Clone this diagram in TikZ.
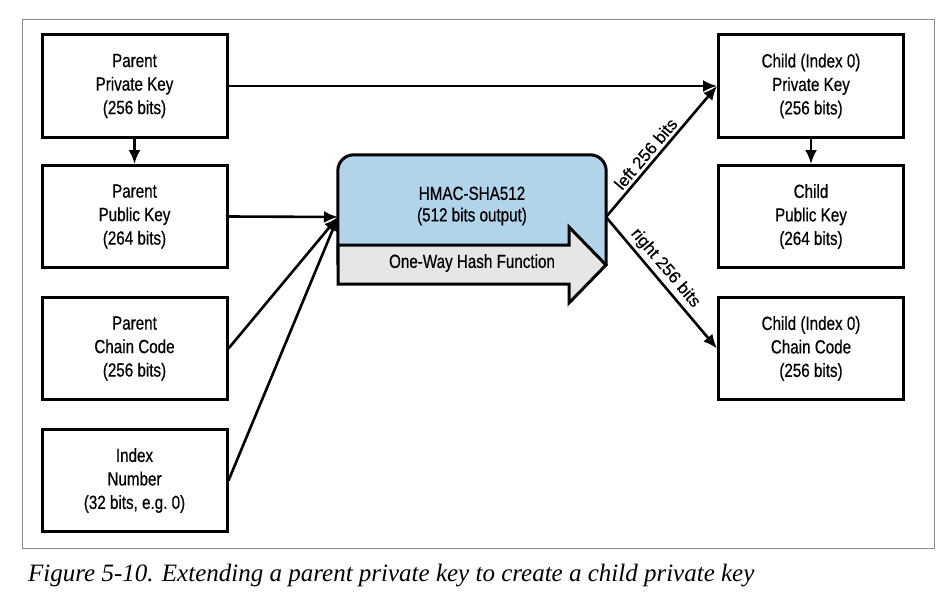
\documentclass[tikz,border=0pt]{standalone}
\usepackage{fontspec}
\setmainfont{Liberation Sans}[FakeStretch=0.8,FakeBold=0.5]
\newfontfamily\labelfont{Liberation Sans}[FakeBold=0.5]
\newfontfamily\capfont{Liberation Serif}
\usepackage{xcolor}
\usepackage{tikz}
\usetikzlibrary{arrows.meta}
\definecolor{hashblue}{RGB}{178,212,234}
\definecolor{hashgrey}{RGB}{230,230,230}
\definecolor{framegrey}{RGB}{140,140,140}

\begin{document}
\begin{tikzpicture}[x=1pt,y=-1pt,
  keybox/.style={draw,line width=3pt,minimum width=185pt,minimum height=102pt,inner sep=0pt,align=center,font=\fontsize{19}{23.5}\selectfont},
  flow/.style={line width=2.6pt,-{Latex[length=14pt,width=12pt]}},
  bitlabel/.style={sloped,above,inner sep=3pt,font=\labelfont\fontsize{17}{20}\selectfont}]
\useasboundingbox (0,0) rectangle (946,594);
\draw[framegrey,line width=1pt] (22,20) rectangle (934,548);
% parent side
\node[keybox](priv)at(134.5,86){Parent\\Private Key\\(256 bits)};
\node[keybox](pub)at(134.5,216.5){Parent\\Public Key\\(264 bits)};
\node[keybox](chain)at(134.5,348.5){Parent\\Chain Code\\(256 bits)};
\node[keybox](idx)at(134.5,480.5){Index\\Number\\(32 bits, e.g.\ 0)};
% child side
\node[keybox](cpriv)at(811,86){Child (Index 0)\\Private Key\\(256 bits)};
\node[keybox](cpub)at(811,216.5){Child\\Public Key\\(264 bits)};
\node[keybox](cchain)at(811,348.5){Child (Index 0)\\Chain Code\\(256 bits)};
% hash function
\node[minimum width=268pt,minimum height=110pt,inner sep=0pt](hmac)at(472,210){};
\draw[fill=hashblue,line width=3pt,rounded corners=16pt](hmac.south west)--(hmac.north west)--(hmac.north east)--(hmac.south east);
\draw[fill=hashgrey,line width=3pt](338,245)--(569,245)--(569,227)--(606,265)--(569,303)--(569,284)--(338,284)--cycle;
\node[align=center,font=\fontsize{19}{21.5}\selectfont](hmactxt)at(472,206){HMAC-SHA512\\(512 bits output)};
\node[font=\fontsize{19}{21}\selectfont](owhf)at(472,263){One-Way Hash Function};
\coordinate(in)at(338,217);
\coordinate(out)at(606,217);
% connectors
\draw[flow](priv)--(pub);
\draw[flow](cpriv)--(cpub);
\draw[flow](priv.east)--(cpriv.west);
\foreach \n in {pub,chain,idx}\draw[flow](\n.east)--(in);
\draw[flow](out)--node[bitlabel,pos=0.43]{left 256 bits}(cpriv.west);
\draw[flow](out)--node[bitlabel,pos=0.45]{right 256 bits}(cchain.west);
% caption
\node[anchor=base west,inner sep=0pt,font=\capfont\itshape\fontsize{25}{28}\selectfont](caption)at(28,581){Figure 5-10. Extending a parent private key to create a child private key};
\end{tikzpicture}
\end{document}
